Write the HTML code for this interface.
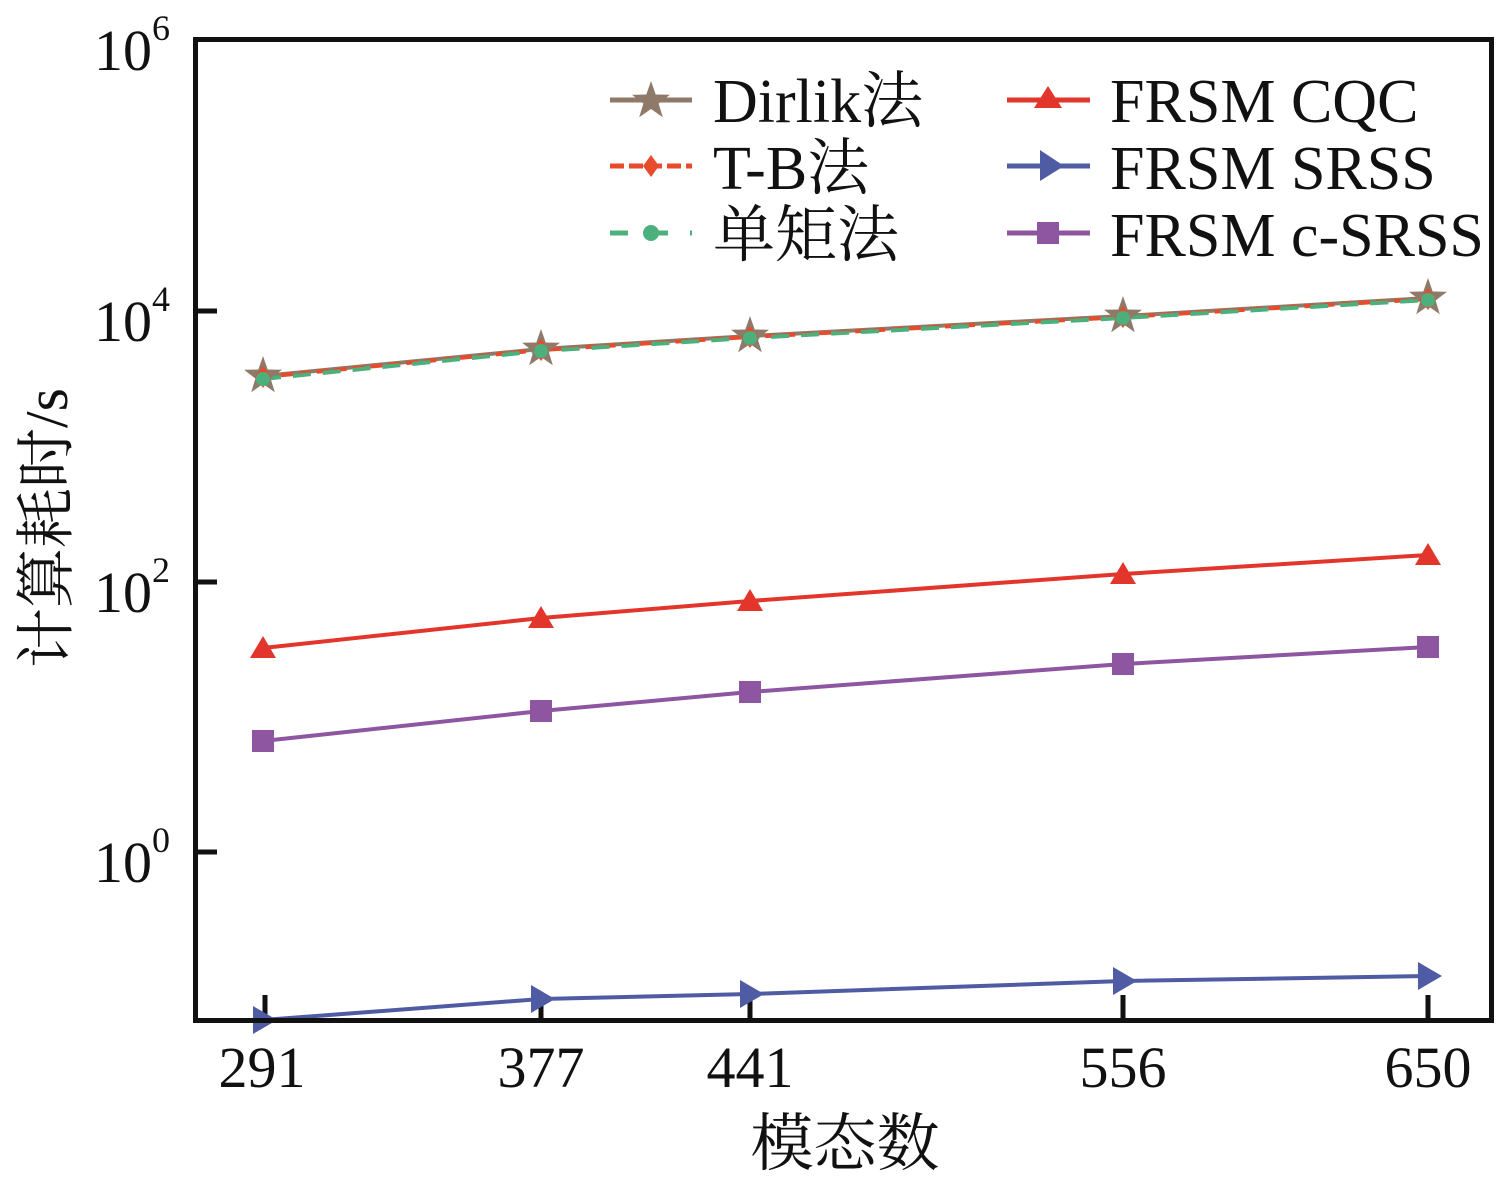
<!DOCTYPE html>
<html><head><meta charset="utf-8"><style>body{margin:0;background:#fff}svg{display:block}svg text{font-family:"Liberation Serif","Noto Serif CJK SC",serif}</style></head><body>
<svg width="1511" height="1186" xmlns="http://www.w3.org/2000/svg">
<g id="minor" stroke="#222" stroke-width="2"></g>
<g stroke="#111" stroke-width="5">
<line x1="197" y1="311" x2="217" y2="311"/><line x1="197" y1="582" x2="217" y2="582"/><line x1="197" y1="852" x2="217" y2="852"/>
<line x1="265" y1="995" x2="265" y2="1020"/><line x1="541" y1="995" x2="541" y2="1020"/><line x1="750" y1="995" x2="750" y2="1020"/><line x1="1123" y1="995" x2="1123" y2="1020"/><line x1="1428" y1="995" x2="1428" y2="1020"/>
</g>
<polyline points="263,1020 541,999 750,994 1123,981 1428,976" fill="none" stroke="#4f5ba3" stroke-width="4"/>
<polyline points="263,741 541,711 750,692 1123,664 1428,647" fill="none" stroke="#8e55a0" stroke-width="4"/>
<polyline points="263,648 541,618 750,601 1123,574 1428,555" fill="none" stroke="#e2352c" stroke-width="4"/>
<polyline points="263,376 541,349 750,336 1123,316 1428,298" fill="none" stroke="#8f7a6a" stroke-width="4"/>
<polyline points="263,377 541,350 750,337 1123,317 1428,299" fill="none" stroke="#e84a2c" stroke-width="4" stroke-dasharray="12,6"/>
<polyline points="263,379 541,351 750,338 1123,318 1428,300" fill="none" stroke="#4cb07c" stroke-width="4" stroke-dasharray="18,12"/>
<g fill="#4f5ba3">
<polygon points="253,1006 253,1034 277,1020"/><polygon points="531,985 531,1013 555,999"/><polygon points="740,980 740,1008 764,994"/><polygon points="1113,967 1113,995 1137,981"/><polygon points="1418,962 1418,990 1442,976"/>
</g>
<g fill="#8e55a0">
<rect x="252" y="730" width="22" height="22"/><rect x="530" y="700" width="22" height="22"/><rect x="739" y="681" width="22" height="22"/><rect x="1112" y="653" width="22" height="22"/><rect x="1417" y="636" width="22" height="22"/>
</g>
<g fill="#e2352c">
<polygon points="263,636 250,658 276,658"/><polygon points="541,606 528,628 554,628"/><polygon points="750,589 737,611 763,611"/><polygon points="1123,562 1110,584 1136,584"/><polygon points="1428,543 1415,565 1441,565"/>
</g>
<defs><polygon id="star" points="0,-20 4.7,-6.5 19,-6.2 7.6,2.5 11.8,16.2 0,8 -11.8,16.2 -7.6,2.5 -19,-6.2 -4.7,-6.5" fill="#8f7a6a"/>
<polygon id="dia" points="0,-11 8,0 0,11 -8,0" fill="#e84a2c"/></defs>
<use href="#star" x="263" y="376"/><use href="#star" x="541" y="349"/><use href="#star" x="750" y="336"/><use href="#star" x="1123" y="316"/><use href="#star" x="1428" y="298"/>
<use href="#dia" x="263" y="377"/><use href="#dia" x="541" y="350"/><use href="#dia" x="750" y="337"/><use href="#dia" x="1123" y="317"/><use href="#dia" x="1428" y="299"/>
<g fill="#4cb07c"><circle cx="263" cy="379" r="7"/><circle cx="541" cy="351" r="7"/><circle cx="750" cy="338" r="7"/><circle cx="1123" cy="318" r="7"/><circle cx="1428" cy="300" r="7"/></g>
<rect x="195.5" y="39.5" width="1296" height="981" fill="none" stroke="#111" stroke-width="5"/>
<line x1="610" y1="100" x2="692" y2="100" stroke="#8f7a6a" stroke-width="5"/><use href="#star" x="651" y="101"/>
<line x1="610" y1="166" x2="692" y2="166" stroke="#e84a2c" stroke-width="5" stroke-dasharray="14,5"/><use href="#dia" x="651" y="166"/>
<line x1="610" y1="233" x2="692" y2="233" stroke="#4cb07c" stroke-width="5" stroke-dasharray="18,22"/><circle cx="651" cy="233" r="8" fill="#4cb07c"/>
<line x1="1007" y1="100" x2="1090" y2="100" stroke="#e2352c" stroke-width="5"/><polygon points="1048,86 1034,108 1062,108" fill="#e2352c"/>
<line x1="1007" y1="166" x2="1090" y2="166" stroke="#4f5ba3" stroke-width="5"/><polygon points="1040,150 1040,181 1064,166" fill="#4f5ba3"/>
<line x1="1007" y1="233" x2="1090" y2="233" stroke="#8e55a0" stroke-width="5"/><rect x="1037" y="222" width="22" height="22" fill="#8e55a0"/>
<g font-size="62" fill="#111">
<text x="713" y="122">Dirlik法</text><text x="713" y="189">T-B法</text><text x="713" y="256">单矩法</text>
<text x="1110" y="122">FRSM CQC</text><text x="1110" y="189">FRSM SRSS</text><text x="1110" y="256">FRSM c-SRSS</text>
</g>
<g font-size="58" fill="#111">
<text x="94" y="70">10<tspan font-size="36" dy="-30">6</tspan></text>
<text x="94" y="341">10<tspan font-size="36" dy="-30">4</tspan></text>
<text x="94" y="612">10<tspan font-size="36" dy="-30">2</tspan></text>
<text x="94" y="882">10<tspan font-size="36" dy="-30">0</tspan></text>
<g text-anchor="middle"><text x="262" y="1087">291</text><text x="541" y="1087">377</text><text x="750" y="1087">441</text><text x="1123" y="1087">556</text><text x="1428" y="1087">650</text>
<text x="845" y="1165" font-size="63">模态数</text>
<text transform="translate(67,528) rotate(-90)" font-size="60">计算耗时/s</text></g>
</g>
<script>
var g=document.getElementById('minor'),s='';
for(var d=-1;d<6;d++)for(var k=2;k<10;k++){var y=852-270.5*(d+Math.log10(k));if(y>42&&y<1018)s+='<line x1="197" y1="'+y+'" x2="205" y2="'+y+'"/>';}
g.innerHTML=s;
</script>
</svg>
</body></html>
